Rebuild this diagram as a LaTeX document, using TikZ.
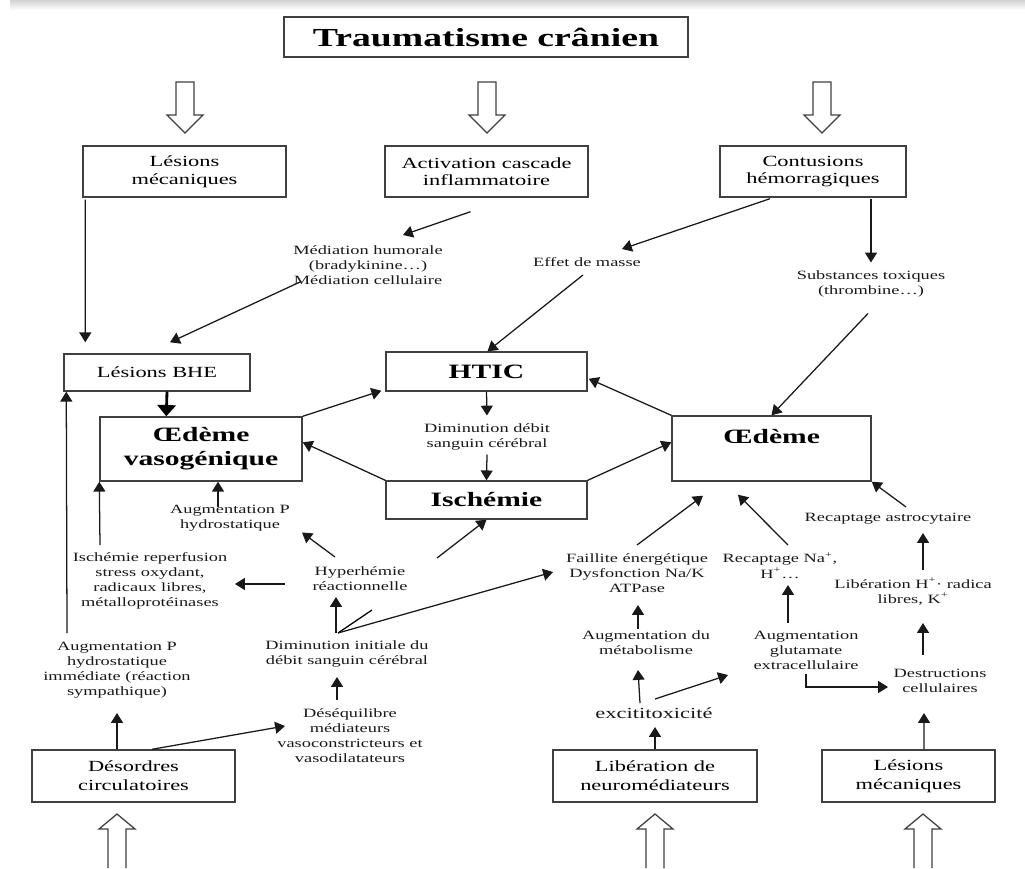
\documentclass[tikz,border=0pt]{standalone}
\usepackage{fontspec}
\setmainfont{Liberation Serif}[FakeStretch=1.45]
\usetikzlibrary{arrows.meta,calc}

\begin{document}
\begin{tikzpicture}[x=0.025cm, y=-0.025cm,
    box/.style={draw=black!75, line width=1pt, align=center, inner sep=0pt, text=black, font=\fontsize{11}{12.5}\selectfont},
    bigbox/.style={box, font=\bfseries\fontsize{14.5}{17}\selectfont},
    lbl/.style={align=center, inner sep=0pt, text=black!90, font=\fontsize{9}{10.7}\selectfont},
    arr/.style={draw=black!90, line width=0.9pt, -{Triangle[length=7pt,width=8.5pt]}},
    hollow/.style={draw=black!75, line width=0.9pt, fill=white}]
\useasboundingbox (0,0) rectangle (1025,868);
\shade[top color=gray!35, bottom color=white] (10,0) rectangle (1025,10);

% boxes
\node[box, font=\bfseries\fontsize{18.5}{20}\selectfont, minimum width=10.1cm, minimum height=1cm] (titre) at (486,37) {Traumatisme crânien};
\node[box, minimum width=5.075cm, minimum height=1.275cm] (lesmec) at (184.5,171.5) {Lésions\\mécaniques};
\node[box, minimum width=5.075cm, minimum height=1.275cm] (activ) at (486.5,171.5) {Activation cascade\\inflammatoire};
\node[box, minimum width=4.65cm, minimum height=1.275cm] (contus) at (813,171.5) {Contusions\\hémorragiques};
\node[box, minimum width=4.65cm, minimum height=0.925cm] (bhe) at (157,372.5) {Lésions BHE};
\node[bigbox, minimum width=5.025cm, minimum height=0.975cm] (htic) at (486.5,371.5) {HTIC};
\node[bigbox, minimum width=5.05cm, minimum height=1.6cm] (vaso) at (201,449) {Œdème\\vasogénique};
\node[bigbox, minimum width=4.975cm, minimum height=1.625cm] (oedeme) at (771.5,448.5) {Œdème\\\mbox{}};
\node[bigbox, minimum width=5.025cm, minimum height=0.95cm] (isch) at (486.5,500) {Ischémie};
\node[box, font=\fontsize{11}{13.5}\selectfont, minimum width=5.075cm, minimum height=1.3cm] (desord) at (133.5,776) {Désordres\\circulatoires};
\node[box, font=\fontsize{11}{13.5}\selectfont, minimum width=5.1cm, minimum height=1.3cm] (liber) at (655,776) {Libération de\\neuromédiateurs};
\node[box, font=\fontsize{11}{13.5}\selectfont, minimum width=4.325cm, minimum height=1.3cm] (lesmecb) at (908.5,776) {Lésions\\mécaniques};

% labels
\node[lbl] (mediat) at (368,265) {Médiation humorale\\(bradykinine…)\\Médiation cellulaire};
\node[lbl] (masse) at (587,262) {Effet de masse};
\node[lbl] (subst) at (871,283.5) {Substances toxiques\\(thrombine…)};
\node[lbl] (dimdeb) at (487,436.5) {Diminution débit\\sanguin cérébral};
\node[lbl] (augP) at (230,518.5) {Augmentation P\\hydrostatique};
\node[lbl] (ischrep) at (150,581) {Ischémie reperfusion\\stress oxydant,\\radicaux libres,\\métalloprotéinases};
\node[lbl] (hyper) at (360,579) {Hyperhémie\\réactionnelle};
\node[lbl] (diminit) at (347,654) {Diminution initiale du\\débit sanguin cérébral};
\node[lbl] (augPimm) at (117,670) {Augmentation P\\hydrostatique\\immédiate (réaction\\sympathique)};
\node[lbl] (desequ) at (350,735.5) {Déséquilibre\\médiateurs\\vasoconstricteurs et\\vasodilatateurs};
\node[lbl] (faillite) at (637,573) {Faillite énergétique\\Dysfonction Na/K\\ATPase};
\node[lbl] (recapNa) at (780,565.5) {Recaptage Na\textsuperscript{+},\\H\textsuperscript{+}…};
\node[lbl] (augmet) at (646,642.5) {Augmentation du\\métabolisme};
\node[lbl] (glut) at (806,650) {Augmentation\\glutamate\\extracellulaire};
\node[lbl] (recapastro) at (888,519) {Recaptage astrocytaire};
\node[lbl] (libH) at (913,591.5) {Libération H\textsuperscript{+}· radica\\libres, K\textsuperscript{+}};
\node[lbl] (destr) at (940,680.5) {Destructions\\cellulaires};
\node[lbl, font=\fontsize{11}{13}\selectfont] (excito) at (654,713) {excititoxicité};

% hollow arrows
\foreach \hx in {185,487,822}
  \draw[hollow] (\hx-9,82) -- (\hx+9,82) -- (\hx+9,115) -- (\hx+18,115) -- (\hx,133) -- (\hx-18,115) -- (\hx-9,115) -- cycle;
\foreach \hx in {117,655,923}
  \draw[hollow] (\hx+9,868) -- (\hx+9,829) -- (\hx+18,829) -- (\hx,814) -- (\hx-18,829) -- (\hx-9,829) -- (\hx-9,868);

% upper part
\draw[arr] ($(lesmec.south west)+(3,2)$) -- ($(bhe.north west)+(22,-11)$);
\draw[arr] ($(activ.south)+(-16,14)$) -- ($(mediat)+(35,-30)$);
\draw[arr] ($(mediat)+(-68,17)$) -- ($(bhe.north)+(13,-11)$);
\draw[arr] ($(contus.south)+(-43,1)$) -- ($(masse)+(35,-13)$);
\draw[arr] ($(masse)+(-4,13)$) -- ($(htic.north)+(1,0)$);
\draw[arr] ($(contus.south)+(58,1)$) -- ($(subst)+(0,-21)$);
\draw[arr] ($(subst)+(-3,30)$) -- (oedeme.north);

% centre
\draw[arr] (htic.south) -- ($(dimdeb)+(0,-21)$);
\draw[arr] ($(dimdeb)+(0,18)$) -- (isch.north);
\draw[arr] (vaso.north east) -- ($(htic.south west)+(-4,-1)$);
\draw[arr] (isch.north west) -- ($(vaso.north east)+(0,26)$);
\draw[arr] (oedeme.north west) -- ($(htic.south east)+(1,-13)$);
\draw[arr] (isch.north east) -- ($(oedeme.north west)+(0,27)$);
\draw[line width=2pt, -{Triangle[length=8pt,width=13pt]}] ($(bhe.south)+(10,0)$) -- ($(vaso.north west)+(67,0)$);

% left part
\draw[arr] ($(augPimm)+(-50,-37)$) -- ($(bhe.south west)+(3,0)$);
\draw[arr] ($(augP)+(-12,-12)$) -- ($(vaso.south)+(17,0)$);
\draw[arr] ($(ischrep)+(-50,-36)$) -- (vaso.south west);
\draw[arr] ($(hyper)+(-75,5)$) -- ($(ischrep)+(85,3)$);
\draw[arr] ($(hyper)+(-25,-22)$) -- ($(augP)+(72,14)$);
\draw[arr] ($(hyper)+(77,-21)$) -- (isch.south);
\draw[arr] ($(diminit)+(-11,-21)$) -- ($(hyper)+(-24,18)$);
\coordinate (fork) at ($(diminit)+(-9,-21)$);
\draw[line width=0.9pt] (fork) -- ++(34,-23);
\draw[arr] (fork) -- ($(faillite)+(-84,-1)$);
\draw[arr] ($(desequ)+(-13,-36)$) -- ($(diminit)+(-10,23)$);
\draw[arr] ($(desord.north)+(-16.5,0)$) -- ($(augPimm)+(0,43)$);
\draw[arr] ($(desord.north)+(18.5,0)$) -- ($(desequ)+(-65,-9.5)$);

% right part
\draw[arr] ($(faillite)+(0,-28)$) -- ($(oedeme.south)+(-68.5,14)$);
\draw[arr] ($(recapNa)+(8,-20.5)$) -- ($(oedeme.south)+(-33.5,13)$);
\draw[arr] ($(augmet)+(-8,-13.5)$) -- ($(faillite)+(1,32)$);
\draw[arr] ($(glut)+(-18,-27)$) -- ($(recapNa)+(8,19.5)$);
\draw[arr] ($(recapastro)+(18,-12)$) -- (oedeme.south east);
\draw[arr] ($(libH)+(10,-21.5)$) -- ($(recapastro)+(35,14)$);
\draw[arr] ($(destr)+(-17,-25.5)$) -- ($(libH)+(10,31.5)$);
\draw[arr] ($(glut)+(0,24)$) |- ($(destr)+(-52,6.5)$);
\draw[arr] ($(excito)+(-14,-10)$) -- ($(augmet)+(-8,27.5)$);
\draw[arr] ($(excito)+(1,-14)$) -- ($(glut)+(-78,25)$);
\draw[arr] (liber.north) -- ($(excito)+(1,14)$);
\draw[arr] ($(lesmecb.north)+(15.5,0)$) -- ($(destr)+(-16,32.5)$);
\end{tikzpicture}
\end{document}
